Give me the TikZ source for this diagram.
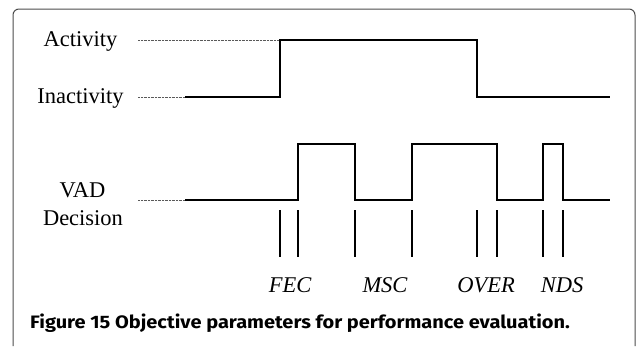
\documentclass[tikz,border=0pt]{standalone}
\usepackage{fontspec}
\setmainfont{Liberation Serif}
\newfontfamily\capfont{Fira Sans}
\begin{document}
\begin{tikzpicture}[x=1pt,y=-1pt,
  lbl/.style={font=\fontsize{22.5}{26}\selectfont, inner sep=0pt, anchor=base},
  par/.style={font=\fontsize{22.5}{26}\selectfont\itshape, inner sep=0pt, anchor=base},
  sig/.style={line width=1.4pt, black},
  dots/.style={line width=0.8pt, gray!70!black, dash pattern=on 0.7pt off 0.7pt},
  tick/.style={line width=1.1pt, black},
  frame/.style={line width=1pt, gray!60!black, rounded corners=6pt}]
\useasboundingbox (0,0) rectangle (637,346);
\draw[frame] (13,346) -- (13,9) -- (635,9) -- (635,346);
% labels
\node[lbl] (act) at (80.5,46) {Activity};
\node[lbl] (inact) at (80.5,103) {Inactivity};
\node[lbl] (vad) at (82.5,197) {VAD};
\node[lbl] (dec) at (83,225) {Decision};
% reference coordinates
\coordinate (aS) at (138,40);
\coordinate (iS) at (138,97);
\coordinate (vS) at (138,200);
\coordinate (iE) at (185,97);
\coordinate (vE) at (185,200);
% dotted guides
\draw[dots] (aS) -- (280,40);
\draw[dots] (iS) -- (iE);
\draw[dots] (vS) -- (vE);
% activity signal
\draw[sig] (iE) -- (280,97) -- (280,40) -- (477,40) -- (477,97) -- (610,97);
% VAD signal
\draw[sig] (vE) -- (298,200) -- (298,144) -- (355,144) -- (355,200) -- (412,200) -- (412,144)
  -- (497,144) -- (497,200) -- (543,200) -- (543,144) -- (563,144) -- (563,200) -- (610,200);
% ticks
\foreach \x in {280,298,355,412,477,497,543,563}
  \draw[tick] (\x,210) -- (\x,257);
% parameter labels
\node[par] (fec) at (290,292) {FEC};
\node[par] (msc) at (385,292) {MSC};
\node[par] (over) at (486,292) {OVER};
\node[par] (nds) at (562,292) {NDS};
% caption
\node[font=\capfont\bfseries\fontsize{18}{21}\selectfont, inner sep=0pt, anchor=base west] (cap) at (30,328.5)
  {\scalebox{1.11}[1]{Figure 15 Objective parameters for performance evaluation.}};
\end{tikzpicture}
\end{document}
